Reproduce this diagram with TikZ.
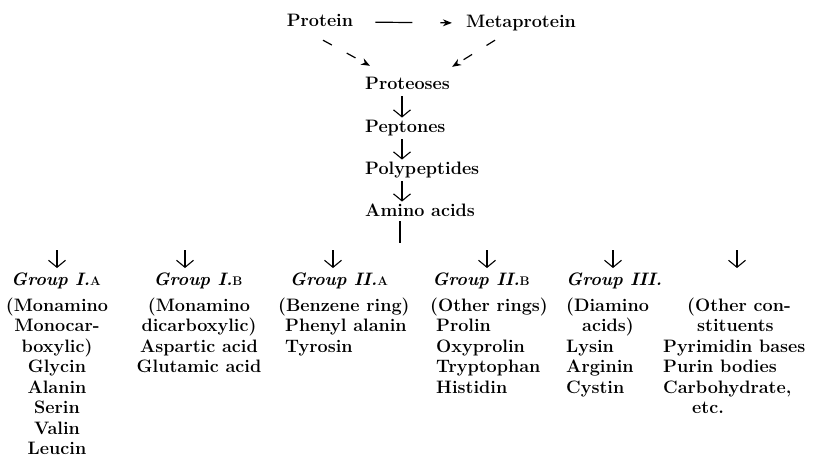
\documentclass[tikz,border=0pt]{standalone}
\usepackage{fontspec}
\usetikzlibrary{arrows.meta,positioning}
\tikzset{
  stage/.style={font=\fontsize{18}{20.5}\selectfont\bfseries,inner sep=1pt,text height=12.5pt,text depth=4pt},
  grouphead/.style={font=\fontsize{18}{20}\selectfont\bfseries\itshape,inner sep=0pt,text height=12pt,text depth=4pt},
  members/.style={font=\fontsize{18}{20.5}\selectfont\bfseries,inner sep=0pt,anchor=north},
  chainarrow/.style={-{Straight Barb[length=7pt,width=17pt]},line width=1.1pt,shorten <=2pt,shorten >=1pt},
  brokenarrow/.style={-{Stealth[length=9pt,width=7pt]},line width=1.2pt,dash pattern=on 10pt off 17pt}
}
\newcommand{\sub}[1]{{\upshape\fontsize{12.5}{12.5}\selectfont #1}}
\begin{document}
\begin{tikzpicture}[x=1pt,y=1pt]
  \useasboundingbox (0,0) rectangle (816,-458);
  % proteins and their first products
  \node[stage] (prot) at (320,-22) {Protein};
  \node[stage] (meta) at (521,-23) {Metaprotein};
  \node[stage,anchor=west] (pros) at (364,-85) {Proteoses};
  \node[stage,below=43pt of pros.west,anchor=west] (pep) {Peptones};
  \node[stage,below=42pt of pep.west,anchor=west] (poly) {Polypeptides};
  \node[stage,below=42pt of poly.west,anchor=west] (aa) {Amino acids};
  \coordinate (axis) at (402,0);
  \coordinate (stemend) at (400,-243);
  \coordinate (hdrline) at (0,-269);
  \draw[brokenarrow,dash pattern=on 37pt off 28pt,shorten <=21pt,shorten >=13pt] (prot.east) -- (meta.west);
  \draw[brokenarrow] ([shift={(3,-8.75)}]prot.south) -- ([shift={(6,9.75)}]pros.north west);
  \draw[brokenarrow] ([shift={(-26,-7.75)}]meta.south) -- ([shift={(1,8.75)}]pros.north east);
  \draw[chainarrow] (pros.south -| axis) -- (pep.north -| axis);
  \draw[chainarrow] (pep.south -| axis) -- (poly.north -| axis);
  \draw[chainarrow] (poly.south -| axis) -- (aa.north -| axis);
  \draw[line width=1.2pt] (aa.south -| stemend) -- (stemend);
  % the groups of amino acids
  \foreach \x [count=\i] in {57,185,333,487,613,737}{
    \coordinate (fork\i) at (\x,-250);
    \draw[chainarrow,shorten <=0pt] (fork\i) -- (fork\i |- hdrline);
  }
  \node[grouphead] (g1) at (56,-281) {Group I.\sub{A}};
  \node[grouphead] (g2) at (198,-281) {Group I.\sub{B}};
  \node[grouphead] (g3) at (339,-281) {Group II.\sub{A}};
  \node[grouphead] (g4) at (481,-281) {Group II.\sub{B}};
  \node[grouphead,anchor=west] (g5) at (566,-281) {Group III.};
  \node[members,align=center] (b1) at (57,-297.5) {(Monamino\\Monocar-\\boxylic)\\Glycin\\Alanin\\Serin\\Valin\\Leucin};
  \node[members,align=center] (b2) at (199,-297.5) {(Monamino\\dicarboxylic)\\Aspartic acid\\Glutamic acid};
  \node[members,align=left,anchor=north west] (b3) at (278,-297.5) {(Benzene ring)\\\hspace*{7pt}Phenyl alanin\\\hspace*{7pt}Tyrosin};
  \node[members,align=left,anchor=north west] (b4) at (430,-297.5) {(Other rings)\\\hspace*{6pt}Prolin\\\hspace*{6pt}Oxyprolin\\\hspace*{6pt}Tryptophan\\\hspace*{6pt}Histidin};
  \node[members,align=left,anchor=north west] (b5) at (566,-297.5) {(Diamino\\\hspace*{16pt}acids)\\Lysin\\Arginin\\Cystin};
  \node[members,align=left,anchor=north west] (b6) at (663,-297.5) {\hspace*{24pt}(Other con-\\\hspace*{34pt}stituents\\Pyrimidin bases\\Purin bodies\\Carbohydrate,\\\hspace*{29pt}etc.};
\end{tikzpicture}
\end{document}
